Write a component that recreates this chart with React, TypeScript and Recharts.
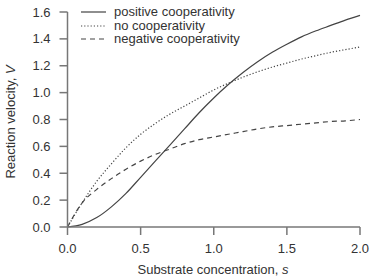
import { LineChart, Line, XAxis, YAxis } from "recharts";

// substrate concentration s (x)
const substrate = [
	0, 0.1, 0.2, 0.3, 0.4, 0.5, 0.6, 0.7, 0.8, 0.9, 1.0, 1.1, 1.2, 1.3, 1.4, 1.5,
	1.6, 1.7, 1.8, 1.9, 2.0,
];

// reaction velocity V
const positiveCoop = [
	0, 0.02, 0.07, 0.15, 0.25, 0.37, 0.49, 0.61, 0.73, 0.85, 0.96, 1.06, 1.15,
	1.23, 1.3, 1.36, 1.415, 1.46, 1.5, 1.54, 1.575,
];
const noCoop = [
	0, 0.18, 0.34, 0.47, 0.59, 0.69, 0.77, 0.84, 0.9, 0.96, 1.02, 1.07, 1.115,
	1.155, 1.19, 1.22, 1.25, 1.275, 1.3, 1.32, 1.34,
];
const negativeCoop = [
	0, 0.18, 0.28, 0.36, 0.43, 0.49, 0.54, 0.58, 0.62, 0.65, 0.67, 0.69, 0.71,
	0.73, 0.745, 0.755, 0.765, 0.775, 0.785, 0.79, 0.8,
];

const xTicks = [0, 0.5, 1.0, 1.5, 2.0];
const yTicks = [0, 0.2, 0.4, 0.6, 0.8, 1.0, 1.2, 1.4, 1.6];

const seriesInfo = [
	{ key: "positive", name: "positive cooperativity", dash: undefined },
	{ key: "none", name: "no cooperativity", dash: "1.2 2" },
	{ key: "negative", name: "negative cooperativity", dash: "5 4" },
];

const data = substrate.map((s, i) => ({
	s,
	positive: positiveCoop[i],
	none: noCoop[i],
	negative: negativeCoop[i],
}));

const FONT = "'Liberation Sans', Arial, Helvetica, sans-serif";
const AXIS = "#777";
const TEXT = "#333";
const LINE = "#444";

// legend drawn as an overlay so it doesn't eat plot space
const LegendBox = () => (
	<div
		style={{
			position: "absolute",
			left: 81,
			top: 5,
			fontFamily: FONT,
			fontSize: 13,
			color: TEXT,
			lineHeight: "13.7px",
		}}
	>
		{seriesInfo.map((item) => (
			<div key={item.key} style={{ display: "flex", alignItems: "center" }}>
				<svg width={26} height={10} style={{ marginRight: 7 }}>
					<line
						x1={0}
						y1={5}
						x2={25}
						y2={5}
						stroke={LINE}
						strokeWidth={1.2}
						strokeDasharray={item.dash}
					/>
				</svg>
				<span>{item.name}</span>
			</div>
		))}
	</div>
);

export default function App() {
	return (
		<div
			style={{
				position: "absolute",
				left: 0,
				top: 0,
				width: 370,
				height: 279,
				background: "#fff",
			}}
		>
			<LineChart
				width={370}
				height={279}
				data={data}
				margin={{ top: 12, right: 10, bottom: 0, left: 7.5 }}
			>
				<XAxis
					dataKey="s"
					type="number"
					domain={[0, 2]}
					ticks={xTicks}
					tickFormatter={(v: number) => v.toFixed(1)}
					height={52}
					stroke={AXIS}
					strokeWidth={1.5}
					tickSize={8}
					tickMargin={9}
					tick={{ fill: TEXT, fontSize: 13, fontFamily: FONT }}
					label={{
						content: () => (
							<text
								x={213}
								y={274}
								textAnchor="middle"
								fill={TEXT}
								fontSize={13}
								fontFamily={FONT}
							>
								Substrate concentration, <tspan fontStyle="italic">s</tspan>
							</text>
						),
					}}
				/>
				<YAxis
					type="number"
					domain={[0, 1.6]}
					ticks={yTicks}
					tickFormatter={(v: number) => v.toFixed(1)}
					width={60}
					stroke={AXIS}
					strokeWidth={1.5}
					tickSize={8}
					tickMargin={9}
					tick={{ fill: TEXT, fontSize: 13, fontFamily: FONT }}
					label={{
						content: () => (
							<text
								x={15}
								y={122}
								transform="rotate(-90 15 122)"
								textAnchor="middle"
								fill={TEXT}
								fontSize={13}
								fontFamily={FONT}
							>
								Reaction velocity, <tspan fontStyle="italic">V</tspan>
							</text>
						),
					}}
				/>
				{seriesInfo.map((item) => (
					<Line
						key={item.key}
						type="monotone"
						dataKey={item.key}
						name={item.name}
						stroke={LINE}
						strokeWidth={1.2}
						strokeDasharray={item.dash}
						dot={false}
						isAnimationActive={false}
					/>
				))}
			</LineChart>
			<LegendBox />
		</div>
	);
}
